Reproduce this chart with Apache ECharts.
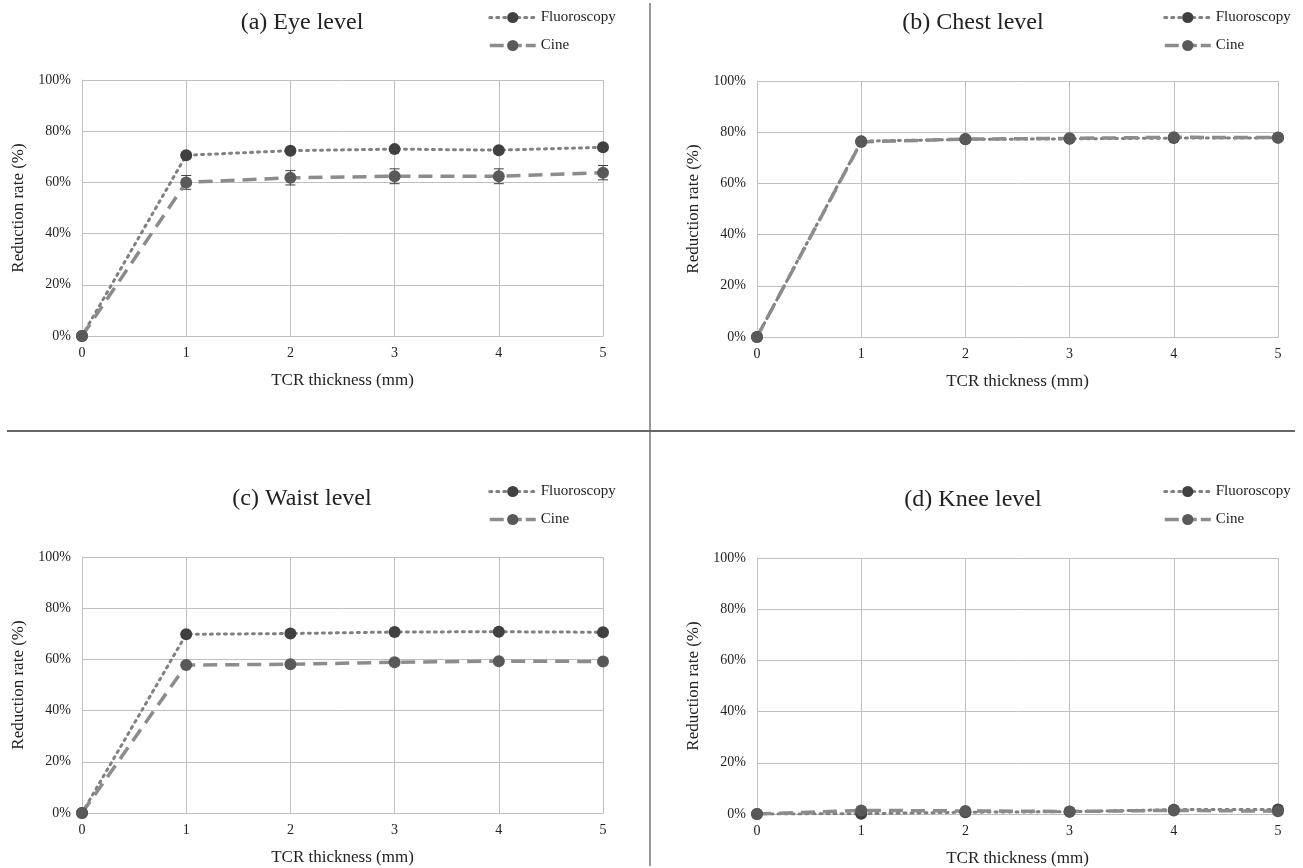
<!DOCTYPE html>
<html>
<head>
<meta charset="utf-8">
<script src="https://cdn.jsdelivr.net/npm/echarts@6/dist/echarts.min.js"></script>
<style>
html,body{margin:0;padding:0;background:#fff;}
#main{width:1303px;height:868px;}
</style>
</head>
<body>
<div id="main"></div>
<script>
// TCR thickness (mm)
var thickness = [0, 1, 2, 3, 4, 5];
var titles = ['(a) Eye level', '(b) Chest level', '(c) Waist level', '(d) Knee level'];

// reduction rate (%) per level
var fluoroEye = [0, 70.6, 72.4, 73.0, 72.6, 73.7];
var cineEye = [0, 60.0, 61.8, 62.4, 62.4, 63.8];
var fluoroEyeErr = [0, 0.8, 0.8, 0.8, 0.8, 0.8];
var cineEyeErr = [0, 2.7, 2.8, 2.9, 2.9, 2.8];

var fluoroChest = [0, 76.5, 77.2, 77.4, 77.7, 77.8];
var cineChest = [0, 76.2, 77.3, 77.6, 78.0, 77.9];

var fluoroWaist = [0, 69.8, 70.1, 70.7, 70.8, 70.6];
var cineWaist = [0, 57.8, 58.1, 58.9, 59.3, 59.2];

var fluoroKnee = [0, 0.1, 0.7, 0.9, 1.7, 1.8];
var cineKnee = [0, 1.4, 1.2, 1.0, 1.4, 1.1];

var yTicks = [0, 20, 40, 60, 80, 100];

var font = 'Liberation Serif, Times New Roman, serif';
var gridPos = [
    {left: 82, top: 80},
    {left: 757, top: 81},
    {left: 82, top: 557},
    {left: 757, top: 558}
];
var titlePos = [
    {x: 302, y: 11}, {x: 973, y: 11}, {x: 302, y: 487}, {x: 973, y: 488}
];
var legendPos = [
    {x: 488, y: 10}, {x: 1163, y: 10}, {x: 488, y: 484}, {x: 1163, y: 484}
];

var fluoroLine = {color: '#808080', width: 3, type: [2, 5], cap: 'round'};
var cineLine = {color: '#8c8c8c', width: 3.5, type: [14, 8]};

function pairs(vals) {
    return thickness.map(function (t, i) { return [t, vals[i]]; });
}
function errPairs(vals, errs) {
    return thickness.map(function (t, i) { return [t, vals[i], errs[i]]; });
}

var myChart = echarts.init(document.getElementById('main'));

var grids = [], xAxes = [], yAxes = [], titleList = [], legends = [], series = [];
var data = [
    [fluoroEye, cineEye],
    [fluoroChest, cineChest],
    [fluoroWaist, cineWaist],
    [fluoroKnee, cineKnee]
];

for (var i = 0; i < 4; i++) {
    grids.push({left: gridPos[i].left, top: gridPos[i].top, width: 521, height: 256});
    titleList.push({
        text: titles[i], left: titlePos[i].x, top: titlePos[i].y, textAlign: 'center', padding: 0,
        textStyle: {fontFamily: font, fontSize: 24, fontWeight: 'normal', color: '#222'}
    });
    legends.push({
        data: [
            {name: 'Fluoroscopy', lineStyle: {width: 3, type: [2, 5], color: '#808080', cap: 'round'}},
            {name: 'Cine', lineStyle: {width: 3.5, type: [14, 4], color: '#8c8c8c'}}
        ],
        orient: 'vertical', left: legendPos[i].x, top: legendPos[i].y, padding: 0,
        itemWidth: 46, itemHeight: 14, itemGap: 13,
        textStyle: {fontFamily: font, fontSize: 15, color: '#222'}
    });
    xAxes.push({
        type: 'value', gridIndex: i, min: 0, max: 5, interval: 1,
        name: 'TCR thickness (mm)', nameLocation: 'middle', nameGap: 36,
        nameTextStyle: {fontFamily: font, fontSize: 17, color: '#222'},
        axisLine: {lineStyle: {color: '#bfbfbf', width: 1}},
        axisTick: {show: false},
        axisLabel: {fontFamily: font, fontSize: 14, color: '#222', margin: 10},
        splitLine: {show: true, lineStyle: {color: '#bfbfbf', width: 1}}
    });
    yAxes.push({
        type: 'value', gridIndex: i, min: yTicks[0], max: yTicks[yTicks.length - 1], interval: 20,
        name: 'Reduction rate (%)', nameLocation: 'middle', nameGap: 55, nameRotate: 90,
        nameTextStyle: {fontFamily: font, fontSize: 17, color: '#222'},
        axisLine: {show: true, lineStyle: {color: '#bfbfbf', width: 1}},
        axisTick: {show: false},
        axisLabel: {fontFamily: font, fontSize: 14, color: '#222', formatter: '{value}%', margin: 11},
        splitLine: {show: true, lineStyle: {color: '#bfbfbf', width: 1}}
    });
    series.push({
        name: 'Fluoroscopy', type: 'line', xAxisIndex: i, yAxisIndex: i,
        data: pairs(data[i][0]), symbol: 'circle', symbolSize: 12, z: 3,
        lineStyle: fluoroLine,
        itemStyle: {color: '#404040'}
    });
    series.push({
        name: 'Cine', type: 'line', xAxisIndex: i, yAxisIndex: i,
        data: pairs(data[i][1]), symbol: 'circle', symbolSize: 12, z: 3,
        lineStyle: cineLine,
        itemStyle: {color: '#595959'}
    });
}

// error bars on panel (a)
function errorBars(vals, errs) {
    return {
        type: 'custom', xAxisIndex: 0, yAxisIndex: 0, z: 2,
        data: errPairs(vals, errs),
        renderItem: function (params, api) {
            var x = api.value(0), y = api.value(1), e = api.value(2);
            var hi = api.coord([x, y + e]);
            var lo = api.coord([x, y - e]);
            var w = 5;
            var st = {stroke: '#404040', lineWidth: 1};
            return {
                type: 'group',
                children: [
                    {type: 'line', shape: {x1: hi[0], y1: hi[1], x2: lo[0], y2: lo[1]}, style: st},
                    {type: 'line', shape: {x1: hi[0] - w, y1: hi[1], x2: hi[0] + w, y2: hi[1]}, style: st},
                    {type: 'line', shape: {x1: lo[0] - w, y1: lo[1], x2: lo[0] + w, y2: lo[1]}, style: st}
                ]
            };
        }
    };
}
series.push(errorBars(fluoroEye, fluoroEyeErr));
series.push(errorBars(cineEye, cineEyeErr));

var option = {
    backgroundColor: '#fff',
    animation: false,
    title: titleList,
    legend: legends,
    grid: grids,
    xAxis: xAxes,
    yAxis: yAxes,
    series: series,
    graphic: [
        {type: 'line', shape: {x1: 650, y1: 3, x2: 650, y2: 866}, style: {stroke: '#333', lineWidth: 1}},
        {type: 'line', shape: {x1: 7, y1: 431, x2: 1295, y2: 431}, style: {stroke: '#666', lineWidth: 2}}
    ]
};

myChart.setOption(option);
window.addEventListener('resize', function () {
    myChart.resize();
});
</script>
</body>
</html>
